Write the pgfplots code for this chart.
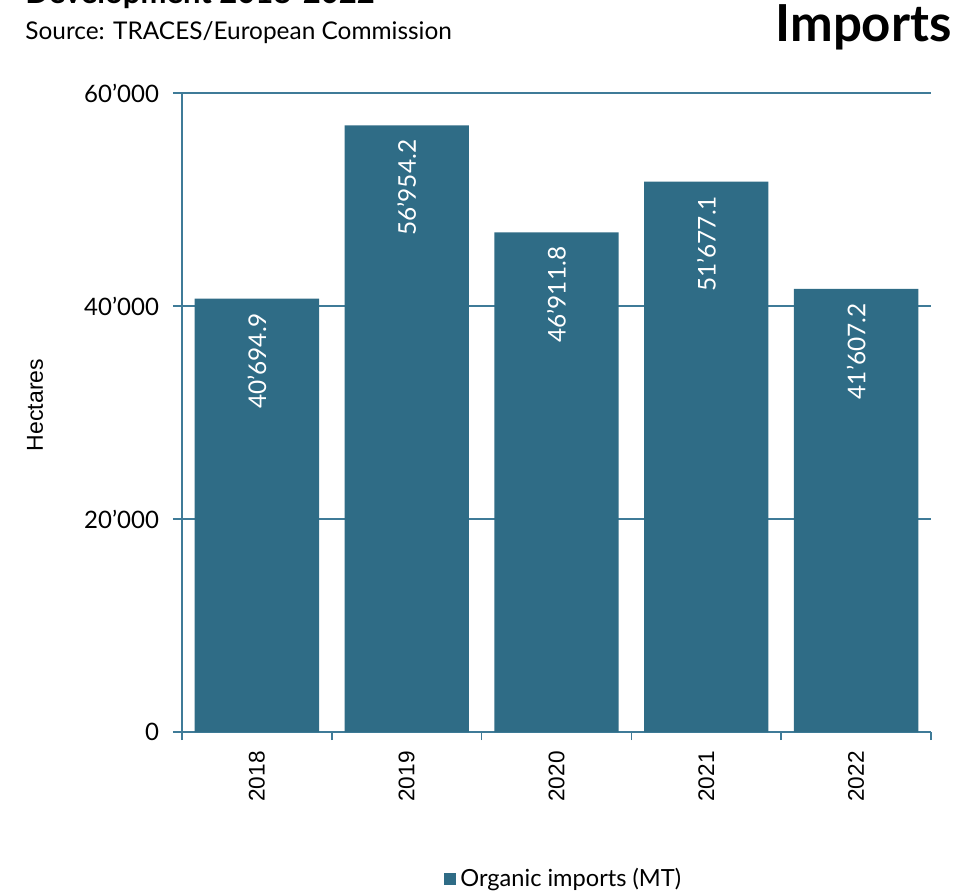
\documentclass[border=0pt]{standalone}
\usepackage{pgfplots}
\pgfplotsset{compat=1.18}
\usepackage{fontspec}
\setmainfont{Lato}
\newfontfamily\arialfont{Liberation Sans}
\definecolor{barc}{HTML}{2F6C86}
\definecolor{linec}{HTML}{3F7B98}
\begin{document}
\begin{tikzpicture}
\path[use as bounding box] (-91pt,-81.5pt) rectangle (396pt,366pt);
\begin{axis}[
  at={(0,0)}, anchor=south west,
  scale only axis, width=374.5pt, height=319.5pt,
  xmin=-0.5, xmax=4.5, ymin=0, ymax=60000,
  axis lines*=left,
  axis line style={linec, line width=0.8pt},
  every tick/.style={linec, line width=0.8pt},
  tick align=outside,
  xtick={0,1,2,3,4},
  xticklabels={2018,2019,2020,2021,2022},
  major x tick style={draw=none},
  minor xtick={-0.5,0.5,1.5,2.5,3.5,4.5},
  minor tick length=4pt,
  xticklabel style={rotate=90, anchor=east, font=\arialfont\fontsize{11.3}{13}\selectfont, inner xsep=5pt},
  ytick={0,20000,40000,60000},
  major tick length=4.5pt,
  ymajorgrids, grid style={linec, line width=0.7pt},
  scaled y ticks=false,
  yticklabel style={font=\fontsize{12}{14}\selectfont, xshift=-3.5pt},
  /pgf/number format/assume math mode=true,
  /pgf/number format/1000 sep={’},
  ybar, bar width=0.83,
  nodes near coords,
  nodes near coords style={font=\fontsize{12.2}{14}\selectfont, text=white,
     rotate=90, anchor=east, inner xsep=7pt,
     /pgf/number format/fixed, /pgf/number format/fixed zerofill,
     /pgf/number format/precision=1, /pgf/number format/1000 sep={’}},
  legend style={at={(0.511,-0.230)}, anchor=center, draw=none, fill=none,
     font=\fontsize{11.8}{13}\selectfont, inner sep=0pt},
  legend image code/.code={\fill[barc] (0pt,-3pt) rectangle (6pt,3pt);},
  clip=false,
]
\addplot[fill=barc, draw=none] coordinates {(0,40694.9) (1,56954.2) (2,46911.8) (3,51677.1) (4,41607.2)};
\addlegendentry{Organic imports (MT)}
\end{axis}
\node[rotate=90, font=\arialfont\fontsize{11.5}{13}\selectfont] at (-73.5pt,163.5pt) {Hectares};
\node[anchor=base west, inner sep=0pt, font=\bfseries\fontsize{15.5}{17}\selectfont] at (-78.5pt,364pt) {Development 2018-2022};
\node[anchor=base west, inner sep=0pt, font=\fontsize{12.2}{14}\selectfont] at (-78.5pt,346pt) {Source: TRACES/European Commission};
\node[anchor=base east, inner sep=0pt, font=\bfseries\fontsize{25.5}{30}\selectfont] at (385pt,345pt) {Imports};
\end{tikzpicture}
\end{document}
